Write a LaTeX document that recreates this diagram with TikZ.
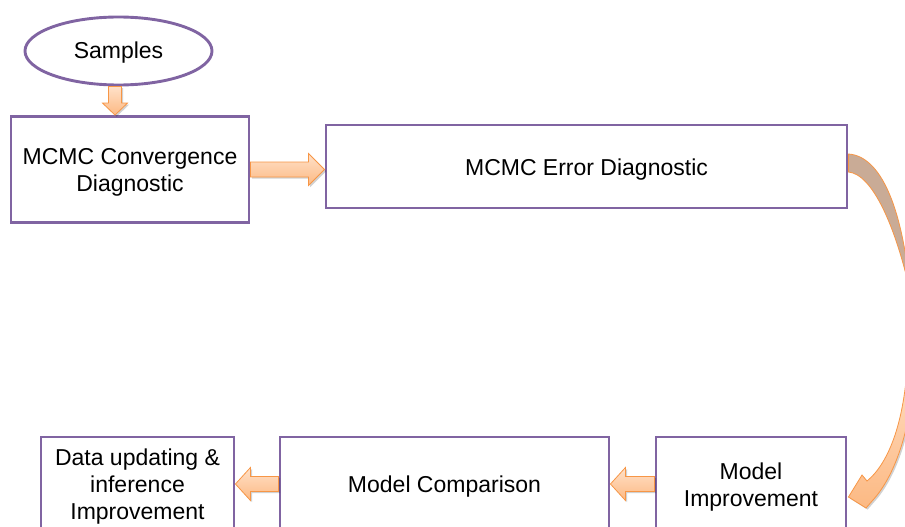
\documentclass[tikz,border=0pt]{standalone}
\usepackage{fontspec}
\setmainfont{Liberation Sans}
\usetikzlibrary{shapes.geometric,calc,shadows}

\definecolor{boxline}{HTML}{8064A2}
\definecolor{arrline}{HTML}{F79646}
\definecolor{arrtop}{HTML}{FFE1C9}
\definecolor{arrbot}{HTML}{FCB983}
\definecolor{ribbonback}{HTML}{C9AB96}

\tikzset{
  stage/.style={draw=boxline, line width=2.9pt, fill=white, rectangle,
    inner sep=0pt},
  stagetext/.style={inner sep=0pt, align=center, font=\fontsize{23}{27}\selectfont},
  startnode/.style={stage, ellipse},
  blockarrow/.style={draw=arrline, line width=0.8pt, line join=miter,
    top color=arrtop, bottom color=arrbot,
    drop shadow={shadow xshift=1.6pt, shadow yshift=-1.6pt, opacity=0.18, fill=black}},
  ribbonrear/.style={draw=arrline, line width=0.8pt, fill=ribbonback},
}

% straight block arrow: from, to, shaft half-width, head half-width, head length
\newcommand\blockarrowpath[5]{%
  \coordinate (ba-h) at ($(#2)!#5!(#1)$);
  \path[blockarrow]
    ($(#1)!#3!90:(#2)$) -- ($(ba-h)!#3!90:(#2)$) -- ($(ba-h)!#4!90:(#2)$)
    -- (#2)
    -- ($(ba-h)!#4!-90:(#2)$) -- ($(ba-h)!#3!-90:(#2)$) -- ($(#1)!#3!-90:(#2)$)
    -- cycle;
}

\begin{document}
\begin{tikzpicture}[x=1pt,y=-1pt]
\useasboundingbox (0,0) rectangle (905,527);
\clip (0,0) rectangle (905,527);

% stages (the caption sits a little below the geometric centre)
\node[startnode, minimum width=187pt, minimum height=68pt,
  label={[stagetext, yshift=-1.5pt]center:Samples}] (samples) at (118.5,51) {};
\node[stage, minimum width=238pt, minimum height=106pt,
  label={[stagetext, yshift=-3pt]center:{MCMC Convergence\\Diagnostic}}] (conv) at (130,169.5) {};
\node[stage, minimum width=521pt, minimum height=83pt,
  label={[stagetext, yshift=-3pt]center:MCMC Error Diagnostic}] (err) at (586.5,166.5) {};
\node[stage, minimum width=190pt, minimum height=94pt,
  label={[stagetext, yshift=-3pt]center:{Model\\Improvement}}] (improve) at (751,484) {};
\node[stage, minimum width=329pt, minimum height=94pt,
  label={[stagetext, yshift=-3pt]center:Model Comparison}] (compare) at (444.5,484) {};
\node[stage, minimum width=193pt, minimum height=94pt,
  label={[stagetext, yshift=-2.5pt]center:{Data updating \&\\inference\\Improvement}}] (data) at (137.5,484) {};

% straight connectors
\coordinate (s-out) at ($(samples.south)+(-3.5,0)$);
\blockarrowpath{s-out}{s-out |- conv.north}{6.5pt}{12.5pt}{12pt}
\blockarrowpath{conv.east}{conv.east -| err.west}{7.5pt}{16pt}{16pt}
\blockarrowpath{improve.west}{improve.west -| compare.east}{7.5pt}{16.5pt}{15pt}
\blockarrowpath{compare.west}{compare.west -| data.east}{7.5pt}{16.5pt}{15pt}

% curved connector from the error diagnostic down to model improvement
\coordinate (rb-outer) at ($(err.east)+(0,-12.5)$);
\coordinate (rb-inner) at ($(err.east)+(0,5.5)$);
\coordinate (rb-tip) at ($(improve.east)+(1,13)$);

\path[ribbonrear] (rb-outer) .. controls (880,156) and (902,205) .. (910,290)
  -- (925,300) -- (912,300) .. controls (896,225) and (872,174) .. (rb-inner) -- cycle;

\path[blockarrow] (915,350) .. controls (914,430) and (893,478) .. (873,500)
  -- (866,508) -- (rb-tip) -- (862,475) -- (867,481)
  .. controls (889,463) and (906,420) .. (908,350) -- cycle;
\end{tikzpicture}
\end{document}
